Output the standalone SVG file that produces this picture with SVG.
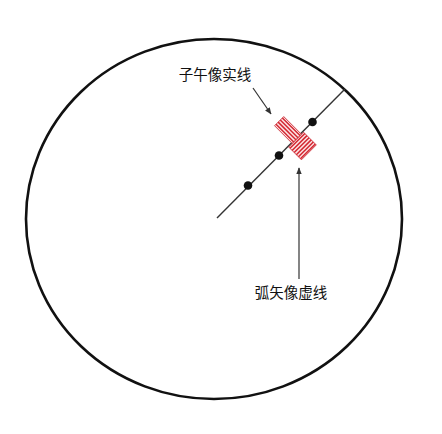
<svg xmlns="http://www.w3.org/2000/svg" width="442" height="434" viewBox="0 0 442 434">
<defs>
<style>
.lbl{font-family:"Liberation Sans","Noto Sans CJK SC",sans-serif;font-size:14.5px;fill:#111;text-anchor:middle}
.ray{stroke:#333;stroke-width:1.4;fill:none}
.arr{stroke:#333;stroke-width:1.2;fill:none}
.dot{fill:#111}
.pbg{fill:#fbe4e5;stroke:#c9202b;stroke-width:0.8}
.st{stroke:#d42630;stroke-width:1.5}
</style>
<marker id="ah" viewBox="0 0 10 10" refX="9" refY="5" markerWidth="7" markerHeight="7" orient="auto" markerUnits="userSpaceOnUse">
<path d="M0,1 L10,5 L0,9 Z" fill="#333"/>
</marker>
</defs>
<rect width="442" height="434" fill="#fff"/>
<g id="field">
<ellipse cx="214" cy="219" rx="188" ry="180" fill="none" stroke="#111" stroke-width="2.6"/>
</g>
<g id="connectors">
<line class="ray" x1="217" y1="218" x2="345" y2="89"/>
<line class="arr" x1="253" y1="88" x2="271" y2="114" marker-end="url(#ah)"/>
<line class="arr" x1="299" y1="279" x2="299" y2="168" marker-end="url(#ah)"/>
</g>
<g id="points">
<circle class="dot" cx="248" cy="185.5" r="4.3"/>
<circle class="dot" cx="279" cy="155.5" r="4.3"/>
<circle class="dot" cx="312.5" cy="122" r="4.3"/>
</g>
<g id="meridional" transform="translate(288,130) rotate(45)">
<rect class="pbg" x="-12.5" y="-6.5" width="25" height="13"/>
<line class="st" x1="-12.5" y1="-4.6" x2="12.5" y2="-4.6"/>
<line class="st" x1="-12.5" y1="-1.6" x2="12.5" y2="-1.6"/>
<line class="st" x1="-12.5" y1="1.4" x2="12.5" y2="1.4"/>
<line class="st" x1="-12.5" y1="4.4" x2="12.5" y2="4.4"/>
</g>
<g id="sagittal" transform="translate(302.5,146) rotate(45)">
<rect class="pbg" x="-9" y="-10.5" width="18" height="21"/>
<line class="st" x1="-7.2" y1="-10.5" x2="-7.2" y2="10.5"/>
<line class="st" x1="-4.2" y1="-10.5" x2="-4.2" y2="10.5"/>
<line class="st" x1="-1.2" y1="-10.5" x2="-1.2" y2="10.5"/>
<line class="st" x1="1.8" y1="-10.5" x2="1.8" y2="10.5"/>
<line class="st" x1="4.8" y1="-10.5" x2="4.8" y2="10.5"/>
<line class="st" x1="7.6" y1="-10.5" x2="7.6" y2="10.5"/>
</g>
<g id="label-meridional">
<text class="lbl" x="215" y="80">子午像实线</text>
</g>
<g id="label-sagittal">
<text class="lbl" x="291" y="298">弧矢像虚线</text>
</g>
</svg>
